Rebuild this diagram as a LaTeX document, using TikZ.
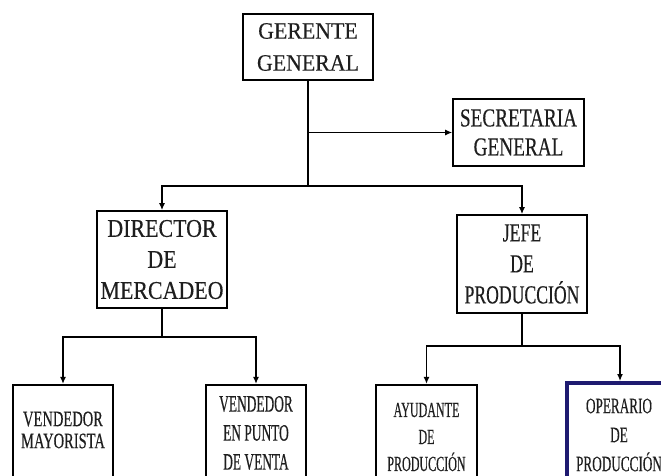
\documentclass[tikz,border=0pt]{standalone}
\usepackage{fontspec}
\setmainfont{Liberation Serif}
% condensed, slightly heavy cuts of the serif face for the box labels
\newfontfamily\fntGer[FakeStretch=0.93,FakeBold=0.35]{Liberation Serif}
\newfontfamily\fntSec[FakeStretch=0.74,FakeBold=0.35]{Liberation Serif}
\newfontfamily\fntDir[FakeStretch=0.86,FakeBold=0.35]{Liberation Serif}
\newfontfamily\fntJef[FakeStretch=0.68,FakeBold=0.35]{Liberation Serif}
\newfontfamily\fntMay[FakeStretch=0.66,FakeBold=0.35]{Liberation Serif}
\newfontfamily\fntPun[FakeStretch=0.57,FakeBold=0.35]{Liberation Serif}
\newfontfamily\fntAyu[FakeStretch=0.56,FakeBold=0.35]{Liberation Serif}
\newfontfamily\fntOpe[FakeStretch=0.60,FakeBold=0.35]{Liberation Serif}
\usetikzlibrary{arrows.meta}
\definecolor{navy}{RGB}{30,26,112}
\definecolor{ink}{RGB}{30,30,30}
\tikzset{
  box/.style={draw, line width=1.8pt, inner sep=0pt, align=center, text=ink},
  lowbox/.style={draw, line width=2.3pt, inner sep=0pt},
  lbl/.style={inner sep=0pt, align=center, text=ink},
  link/.style={line width=1.2pt},
  arr/.style={link, -{Latex[length=7pt,width=6pt]}},
}
\begin{document}
\begin{tikzpicture}[x=1pt,y=-1pt]
  \useasboundingbox (0,0) rectangle (661,476);
  \clip (0,0) rectangle (661,476);

  % upper levels
  \node[box, minimum width=130pt, minimum height=66pt,
        font=\fntGer\fontsize{23.5}{32}\selectfont] (g) at (308,47)
        {GERENTE\\GENERAL};
  \node[box, minimum width=131pt, minimum height=67pt,
        font=\fntSec\fontsize{26}{29}\selectfont] (s) at (518.5,132.5)
        {SECRETARIA\\GENERAL};
  \node[box, minimum width=130pt, minimum height=97pt,
        font=\fntDir\fontsize{25.5}{31}\selectfont] (d) at (162,259.5)
        {DIRECTOR\\DE\\MERCADEO};
  \node[box, minimum width=130pt, minimum height=98pt,
        font=\fntJef\fontsize{26}{31}\selectfont] (jf) at (522,264)
        {JEFE\\DE\\PRODUCCIÓN};

  % lowest level: boxes run past the lower edge
  \node[lowbox, minimum width=100pt, minimum height=115pt] (v1) at (63,442.5) {};
  \node[lowbox, minimum width=100pt, minimum height=115pt] (v2) at (256,442.5) {};
  \node[lowbox, minimum width=101pt, minimum height=115pt] (a) at (426.5,442.5) {};
  \node[draw=navy, line width=4pt, inner sep=0pt,
        minimum width=106pt, minimum height=117pt] (o) at (620,441.5) {};

  \node[lbl, font=\fntMay\fontsize{22}{22}\selectfont] (v1t) at (63,430)
        {VENDEDOR\\MAYORISTA};
  \node[lbl, font=\fntPun\fontsize{23.5}{29}\selectfont] (v2t) at (256,433)
        {VENDEDOR\\EN PUNTO\\DE VENTA};
  \node[lbl, font=\fntAyu\fontsize{21.5}{27}\selectfont] (at) at (426.5,437)
        {AYUDANTE\\DE\\PRODUCCIÓN};
  \node[lbl, font=\fntOpe\fontsize{22}{29}\selectfont] (ot) at (619,435)
        {OPERARIO\\DE\\PRODUCCIÓN};

  % junction points
  \coordinate (j1) at (308,186);
  \coordinate (j2) at (162,337);
  \coordinate (j3) at (522,346);

  % connectors
  \draw[link] (g.south) -- (j1);
  \draw[arr, line width=1pt] (g |- s.west) -- (s.west);
  \draw[arr] (j1) -| (d.north);
  \draw[arr] (j1) -| (jf.north);

  \draw[link] (d.south) -- (j2);
  \draw[arr] (j2) -| (v1.north);
  \draw[arr] (j2) -| (v2.north);

  \draw[link] (jf.south) -- (j3);
  \draw[arr] (j3) -| (a.north);
  \draw[arr] (j3) -| (o.north);
\end{tikzpicture}
\end{document}
